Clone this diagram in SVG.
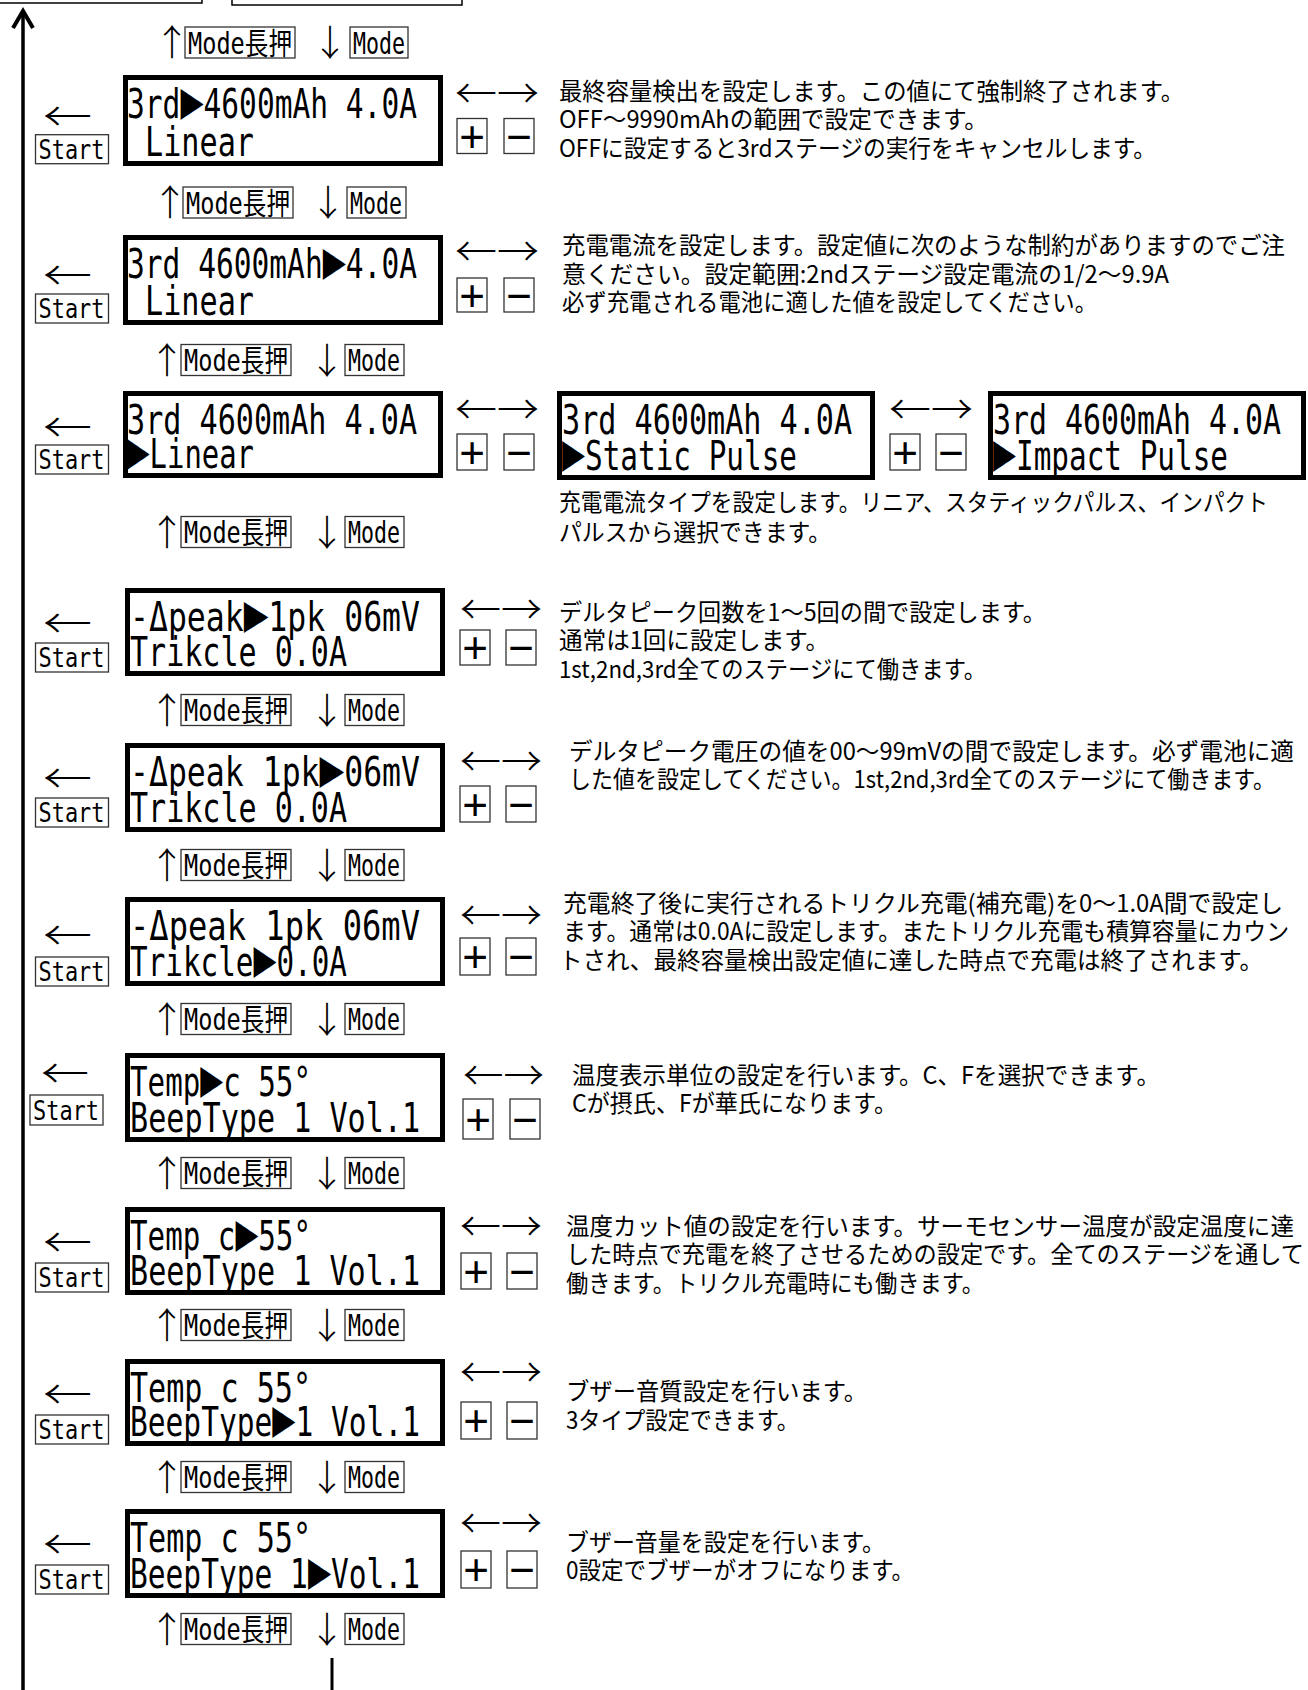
<svg xmlns="http://www.w3.org/2000/svg" width="1308" height="1690" viewBox="0 0 1308 1690">
<style>
.lcd{fill:#fff;stroke:#000;stroke-width:5}
.lt{font-family:"DejaVu Sans Mono","Noto Sans CJK JP",monospace;font-size:40px;fill:#000}
.cur{font-size:52px}
.bx{fill:#fff;stroke:#333;stroke-width:1.3}
.ml{font-family:"DejaVu Sans Mono","Noto Sans CJK JP",monospace;font-size:30px;fill:#000}
.st{font-family:"DejaVu Sans Mono",monospace;font-size:27px;fill:#000}
.ar{font-family:"Noto Sans CJK JP",sans-serif;font-size:40px;font-weight:300;fill:#000}
.va{font-family:"Noto Sans CJK JP",sans-serif;font-size:36px;font-weight:300;fill:#000;text-anchor:middle}
.pm{font-family:"Liberation Sans",sans-serif;font-size:44px;fill:#000;text-anchor:middle}
.ds{font-family:"Noto Sans CJK JP",sans-serif;font-size:24px;fill:#000}
.cn{fill:none;stroke:#000}
</style>
<rect x="0" y="0" width="1308" height="1690" fill="#fff"/>

<g id="top-boxes">
<rect class="cn" x="-2" y="-40" width="204" height="43" stroke-width="1.5"/>
<rect class="cn" x="232" y="-40" width="230" height="45" stroke-width="1.5"/>
</g>

<g id="connectors">
<line class="cn" x1="23" y1="12" x2="23" y2="1690" stroke-width="3.5"/>
<polyline class="cn" points="13,28 23,11 33,28" stroke-width="4"/>
<line class="cn" x1="332" y1="1658" x2="332" y2="1690" stroke-width="3"/>
</g>

<g id="mode-labels">
<g id="m1"><text class="va" x="172" y="56">↑</text><rect class="bx" x="185" y="27" width="110" height="31"/><text class="ml" x="188" y="53.5" textLength="104" lengthAdjust="spacingAndGlyphs">Mode長押</text><text class="va" x="330" y="56">↓</text><rect class="bx" x="350" y="27" width="58" height="31"/><text class="ml" x="353" y="53.5" textLength="52" lengthAdjust="spacingAndGlyphs">Mode</text></g>
<g id="m2"><text class="va" x="170" y="216">↑</text><rect class="bx" x="183" y="187" width="110" height="31"/><text class="ml" x="186" y="213.5" textLength="104" lengthAdjust="spacingAndGlyphs">Mode長押</text><text class="va" x="328" y="216">↓</text><rect class="bx" x="347" y="187" width="59" height="31"/><text class="ml" x="350" y="213.5" textLength="52" lengthAdjust="spacingAndGlyphs">Mode</text></g>
<g id="m3"><text class="va" x="167" y="374">↑</text><rect class="bx" x="181" y="344.5" width="110" height="31"/><text class="ml" x="184" y="371" textLength="104" lengthAdjust="spacingAndGlyphs">Mode長押</text><text class="va" x="327" y="374">↓</text><rect class="bx" x="345" y="344.5" width="59" height="31"/><text class="ml" x="348" y="371" textLength="52" lengthAdjust="spacingAndGlyphs">Mode</text></g>
<g id="m4"><text class="va" x="167" y="546">↑</text><rect class="bx" x="181" y="516.5" width="110" height="31"/><text class="ml" x="184" y="543" textLength="104" lengthAdjust="spacingAndGlyphs">Mode長押</text><text class="va" x="327" y="546">↓</text><rect class="bx" x="345" y="516.5" width="59" height="31"/><text class="ml" x="348" y="543" textLength="52" lengthAdjust="spacingAndGlyphs">Mode</text></g>
<g id="m5"><text class="va" x="167" y="724">↑</text><rect class="bx" x="181" y="694.5" width="110" height="31"/><text class="ml" x="184" y="721" textLength="104" lengthAdjust="spacingAndGlyphs">Mode長押</text><text class="va" x="327" y="724">↓</text><rect class="bx" x="345" y="694.5" width="59" height="31"/><text class="ml" x="348" y="721" textLength="52" lengthAdjust="spacingAndGlyphs">Mode</text></g>
<g id="m6"><text class="va" x="167" y="879">↑</text><rect class="bx" x="181" y="849.5" width="110" height="31"/><text class="ml" x="184" y="876" textLength="104" lengthAdjust="spacingAndGlyphs">Mode長押</text><text class="va" x="327" y="879">↓</text><rect class="bx" x="345" y="849.5" width="59" height="31"/><text class="ml" x="348" y="876" textLength="52" lengthAdjust="spacingAndGlyphs">Mode</text></g>
<g id="m7"><text class="va" x="167" y="1033">↑</text><rect class="bx" x="181" y="1003.5" width="110" height="31"/><text class="ml" x="184" y="1030" textLength="104" lengthAdjust="spacingAndGlyphs">Mode長押</text><text class="va" x="327" y="1033">↓</text><rect class="bx" x="345" y="1003.5" width="59" height="31"/><text class="ml" x="348" y="1030" textLength="52" lengthAdjust="spacingAndGlyphs">Mode</text></g>
<g id="m8"><text class="va" x="167" y="1187">↑</text><rect class="bx" x="181" y="1157.5" width="110" height="31"/><text class="ml" x="184" y="1184" textLength="104" lengthAdjust="spacingAndGlyphs">Mode長押</text><text class="va" x="327" y="1187">↓</text><rect class="bx" x="345" y="1157.5" width="59" height="31"/><text class="ml" x="348" y="1184" textLength="52" lengthAdjust="spacingAndGlyphs">Mode</text></g>
<g id="m9"><text class="va" x="167" y="1339">↑</text><rect class="bx" x="181" y="1309.5" width="110" height="31"/><text class="ml" x="184" y="1336" textLength="104" lengthAdjust="spacingAndGlyphs">Mode長押</text><text class="va" x="327" y="1339">↓</text><rect class="bx" x="345" y="1309.5" width="59" height="31"/><text class="ml" x="348" y="1336" textLength="52" lengthAdjust="spacingAndGlyphs">Mode</text></g>
<g id="m10"><text class="va" x="167" y="1491">↑</text><rect class="bx" x="181" y="1461.5" width="110" height="31"/><text class="ml" x="184" y="1488" textLength="104" lengthAdjust="spacingAndGlyphs">Mode長押</text><text class="va" x="327" y="1491">↓</text><rect class="bx" x="345" y="1461.5" width="59" height="31"/><text class="ml" x="348" y="1488" textLength="52" lengthAdjust="spacingAndGlyphs">Mode</text></g>
<g id="m11"><text class="va" x="167" y="1643">↑</text><rect class="bx" x="181" y="1613.5" width="110" height="31"/><text class="ml" x="184" y="1640" textLength="104" lengthAdjust="spacingAndGlyphs">Mode長押</text><text class="va" x="327" y="1643">↓</text><rect class="bx" x="345" y="1613.5" width="59" height="31"/><text class="ml" x="348" y="1640" textLength="52" lengthAdjust="spacingAndGlyphs">Mode</text></g>
</g>

<g id="row1">
<rect class="lcd" x="125.5" y="77.5" width="315" height="86"/>
<text class="lt" x="127" y="118" textLength="290" lengthAdjust="spacingAndGlyphs">3rd<tspan class="cur">▶</tspan>4600mAh 4.0A</text>
<text class="lt" x="145" y="156" textLength="109" lengthAdjust="spacingAndGlyphs">Linear</text>
<text class="ar" x="43" y="131" textLength="49" lengthAdjust="spacingAndGlyphs">←</text>
<rect class="bx" x="35.5" y="134.7" width="73" height="29"/>
<text class="st" x="38.5" y="158.7" textLength="66" lengthAdjust="spacingAndGlyphs">Start</text>
<text class="ar" x="455" y="108" textLength="84" lengthAdjust="spacingAndGlyphs">←→</text>
<rect class="bx" x="457" y="118.5" width="30" height="35"/><text class="pm" x="472" y="151.5">+</text>
<rect class="bx" x="504" y="118.5" width="30" height="35"/><text class="pm" x="519" y="151.5">−</text>
<text class="ds" x="559" y="99.5" textLength="625" lengthAdjust="spacingAndGlyphs">最終容量検出を設定します。この値にて強制終了されます。</text>
<text class="ds" x="559" y="127.5" textLength="429" lengthAdjust="spacingAndGlyphs">OFF〜9990mAhの範囲で設定できます。</text>
<text class="ds" x="559" y="156.5" textLength="597" lengthAdjust="spacingAndGlyphs">OFFに設定すると3rdステージの実行をキャンセルします。</text>
</g>

<g id="row2">
<rect class="lcd" x="125.5" y="237.5" width="315" height="85"/>
<text class="lt" x="127" y="278" textLength="290" lengthAdjust="spacingAndGlyphs">3rd 4600mAh<tspan class="cur">▶</tspan>4.0A</text>
<text class="lt" x="145" y="315" textLength="109" lengthAdjust="spacingAndGlyphs">Linear</text>
<text class="ar" x="43" y="290" textLength="49" lengthAdjust="spacingAndGlyphs">←</text>
<rect class="bx" x="35.5" y="294" width="73" height="29"/>
<text class="st" x="38.5" y="318" textLength="66" lengthAdjust="spacingAndGlyphs">Start</text>
<text class="ar" x="455" y="266" textLength="84" lengthAdjust="spacingAndGlyphs">←→</text>
<rect class="bx" x="457" y="278" width="30" height="34"/><text class="pm" x="472" y="310.5">+</text>
<rect class="bx" x="504" y="278" width="30" height="34"/><text class="pm" x="519" y="310.5">−</text>
<text class="ds" x="562" y="253.5" textLength="723" lengthAdjust="spacingAndGlyphs">充電電流を設定します。設定値に次のような制約がありますのでご注</text>
<text class="ds" x="562" y="282.5" textLength="607" lengthAdjust="spacingAndGlyphs">意ください。設定範囲:2ndステージ設定電流の1/2〜9.9A</text>
<text class="ds" x="562" y="310.5" textLength="535" lengthAdjust="spacingAndGlyphs">必ず充電される電池に適した値を設定してください。</text>
</g>

<g id="row3">
<rect class="lcd" x="125.5" y="393.5" width="315" height="82"/>
<text class="lt" x="127" y="434" textLength="290" lengthAdjust="spacingAndGlyphs">3rd 4600mAh 4.0A</text>
<text class="lt" x="127" y="468" textLength="127" lengthAdjust="spacingAndGlyphs"><tspan class="cur">▶</tspan>Linear</text>
<text class="ar" x="43" y="442" textLength="49" lengthAdjust="spacingAndGlyphs">←</text>
<rect class="bx" x="35.5" y="445" width="73" height="29"/>
<text class="st" x="38.5" y="469" textLength="66" lengthAdjust="spacingAndGlyphs">Start</text>
<text class="ar" x="455" y="424" textLength="84" lengthAdjust="spacingAndGlyphs">←→</text>
<rect class="bx" x="457" y="434" width="30" height="36"/><text class="pm" x="472" y="467.5">+</text>
<rect class="bx" x="504" y="434" width="30" height="36"/><text class="pm" x="519" y="467.5">−</text>
</g>

<g id="row3-static">
<rect class="lcd" x="559.5" y="393.5" width="313" height="84"/>
<text class="lt" x="562" y="434" textLength="290" lengthAdjust="spacingAndGlyphs">3rd 4600mAh 4.0A</text>
<text class="lt" x="562" y="470" textLength="235" lengthAdjust="spacingAndGlyphs"><tspan class="cur">▶</tspan>Static Pulse</text>
<text class="ar" x="889" y="424" textLength="84" lengthAdjust="spacingAndGlyphs">←→</text>
<rect class="bx" x="890" y="434" width="30" height="36"/><text class="pm" x="905" y="467.5">+</text>
<rect class="bx" x="936" y="434" width="30" height="36"/><text class="pm" x="951" y="467.5">−</text>
<text class="ds" x="559" y="511" textLength="709" lengthAdjust="spacingAndGlyphs">充電電流タイプを設定します。リニア、スタティックパルス、インパクト</text>
<text class="ds" x="559" y="541" textLength="272" lengthAdjust="spacingAndGlyphs">パルスから選択できます。</text>
</g>

<g id="row3-impact">
<rect class="lcd" x="990.5" y="393.5" width="313" height="84"/>
<text class="lt" x="993" y="434" textLength="288" lengthAdjust="spacingAndGlyphs">3rd 4600mAh 4.0A</text>
<text class="lt" x="993" y="470" textLength="235" lengthAdjust="spacingAndGlyphs"><tspan class="cur">▶</tspan>Impact Pulse</text>
</g>

<g id="row4">
<rect class="lcd" x="127.5" y="590.5" width="315" height="83"/>
<text class="lt" x="130" y="631" textLength="290" lengthAdjust="spacingAndGlyphs">-Δpeak<tspan class="cur">▶</tspan>1pk 06mV</text>
<text class="lt" x="130" y="666" textLength="217" lengthAdjust="spacingAndGlyphs">Trikcle 0.0A</text>
<text class="ar" x="43" y="638" textLength="49" lengthAdjust="spacingAndGlyphs">←</text>
<rect class="bx" x="35.5" y="643" width="73" height="29"/>
<text class="st" x="38.5" y="667" textLength="66" lengthAdjust="spacingAndGlyphs">Start</text>
<text class="ar" x="460" y="624" textLength="82" lengthAdjust="spacingAndGlyphs">←→</text>
<rect class="bx" x="460" y="630" width="30" height="35"/><text class="pm" x="475" y="663">+</text>
<rect class="bx" x="506" y="630" width="30" height="35"/><text class="pm" x="521" y="663">−</text>
<text class="ds" x="559" y="621" textLength="487" lengthAdjust="spacingAndGlyphs">デルタピーク回数を1〜5回の間で設定します。</text>
<text class="ds" x="559" y="649" textLength="270" lengthAdjust="spacingAndGlyphs">通常は1回に設定します。</text>
<text class="ds" x="559" y="678" textLength="427" lengthAdjust="spacingAndGlyphs">1st,2nd,3rd全てのステージにて働きます。</text>
</g>

<g id="row5">
<rect class="lcd" x="127.5" y="745.5" width="315" height="84"/>
<text class="lt" x="130" y="786" textLength="290" lengthAdjust="spacingAndGlyphs">-Δpeak 1pk<tspan class="cur">▶</tspan>06mV</text>
<text class="lt" x="130" y="822" textLength="217" lengthAdjust="spacingAndGlyphs">Trikcle 0.0A</text>
<text class="ar" x="43" y="793" textLength="49" lengthAdjust="spacingAndGlyphs">←</text>
<rect class="bx" x="35.5" y="798" width="73" height="29"/>
<text class="st" x="38.5" y="822" textLength="66" lengthAdjust="spacingAndGlyphs">Start</text>
<text class="ar" x="460" y="776" textLength="82" lengthAdjust="spacingAndGlyphs">←→</text>
<rect class="bx" x="460" y="786" width="30" height="36"/><text class="pm" x="475" y="819.5">+</text>
<rect class="bx" x="506" y="786" width="30" height="36"/><text class="pm" x="521" y="819.5">−</text>
<text class="ds" x="569" y="760" textLength="725" lengthAdjust="spacingAndGlyphs">デルタピーク電圧の値を00〜99mVの間で設定します。必ず電池に適</text>
<text class="ds" x="569" y="788" textLength="706" lengthAdjust="spacingAndGlyphs">した値を設定してください。1st,2nd,3rd全てのステージにて働きます。</text>
</g>

<g id="row6">
<rect class="lcd" x="127.5" y="899.5" width="315" height="84"/>
<text class="lt" x="130" y="940" textLength="290" lengthAdjust="spacingAndGlyphs">-Δpeak 1pk 06mV</text>
<text class="lt" x="130" y="976" textLength="217" lengthAdjust="spacingAndGlyphs">Trikcle<tspan class="cur">▶</tspan>0.0A</text>
<text class="ar" x="43" y="950" textLength="49" lengthAdjust="spacingAndGlyphs">←</text>
<rect class="bx" x="35.5" y="957" width="73" height="29"/>
<text class="st" x="38.5" y="981" textLength="66" lengthAdjust="spacingAndGlyphs">Start</text>
<text class="ar" x="460" y="930" textLength="82" lengthAdjust="spacingAndGlyphs">←→</text>
<rect class="bx" x="460" y="938" width="30" height="37"/><text class="pm" x="475" y="972">+</text>
<rect class="bx" x="506" y="938" width="30" height="37"/><text class="pm" x="521" y="972">−</text>
<text class="ds" x="563" y="912" textLength="720" lengthAdjust="spacingAndGlyphs">充電終了後に実行されるトリクル充電(補充電)を0〜1.0A間で設定し</text>
<text class="ds" x="563" y="940" textLength="726" lengthAdjust="spacingAndGlyphs">ます。通常は0.0Aに設定します。またトリクル充電も積算容量にカウン</text>
<text class="ds" x="559" y="969" textLength="704" lengthAdjust="spacingAndGlyphs">トされ、最終容量検出設定値に達した時点で充電は終了されます。</text>
</g>

<g id="row7">
<rect class="lcd" x="127.5" y="1055.5" width="315" height="84"/>
<text class="lt" x="130" y="1096" textLength="181" lengthAdjust="spacingAndGlyphs">Temp<tspan class="cur">▶</tspan>c 55°</text>
<text class="lt" x="130" y="1132" textLength="290" lengthAdjust="spacingAndGlyphs">BeepType 1 Vol.1</text>
<text class="ar" x="41" y="1088" textLength="48" lengthAdjust="spacingAndGlyphs">←</text>
<rect class="bx" x="30" y="1095" width="73" height="30"/>
<text class="st" x="33" y="1120" textLength="66" lengthAdjust="spacingAndGlyphs">Start</text>
<text class="ar" x="463" y="1090" textLength="81" lengthAdjust="spacingAndGlyphs">←→</text>
<rect class="bx" x="463" y="1099" width="30" height="40"/><text class="pm" x="478" y="1134.5">+</text>
<rect class="bx" x="510" y="1099" width="30" height="40"/><text class="pm" x="525" y="1134.5">−</text>
<text class="ds" x="572" y="1084" textLength="588" lengthAdjust="spacingAndGlyphs">温度表示単位の設定を行います。C、Fを選択できます。</text>
<text class="ds" x="572" y="1112" textLength="325" lengthAdjust="spacingAndGlyphs">Cが摂氏、Fが華氏になります。</text>
</g>

<g id="row8">
<rect class="lcd" x="127.5" y="1209.5" width="315" height="83"/>
<text class="lt" x="130" y="1250" textLength="181" lengthAdjust="spacingAndGlyphs">Temp c<tspan class="cur">▶</tspan>55°</text>
<text class="lt" x="130" y="1285" textLength="290" lengthAdjust="spacingAndGlyphs">BeepType 1 Vol.1</text>
<text class="ar" x="43" y="1257" textLength="49" lengthAdjust="spacingAndGlyphs">←</text>
<rect class="bx" x="35.5" y="1263" width="73" height="29"/>
<text class="st" x="38.5" y="1287" textLength="66" lengthAdjust="spacingAndGlyphs">Start</text>
<text class="ar" x="460" y="1241" textLength="82" lengthAdjust="spacingAndGlyphs">←→</text>
<rect class="bx" x="461" y="1253" width="30" height="36"/><text class="pm" x="476" y="1286.5">+</text>
<rect class="bx" x="507" y="1253" width="30" height="36"/><text class="pm" x="522" y="1286.5">−</text>
<text class="ds" x="566" y="1235" textLength="728" lengthAdjust="spacingAndGlyphs">温度カット値の設定を行います。サーモセンサー温度が設定温度に達</text>
<text class="ds" x="566" y="1263" textLength="738" lengthAdjust="spacingAndGlyphs">した時点で充電を終了させるための設定です。全てのステージを通して</text>
<text class="ds" x="566" y="1292" textLength="418" lengthAdjust="spacingAndGlyphs">働きます。トリクル充電時にも働きます。</text>
</g>

<g id="row9">
<rect class="lcd" x="127.5" y="1361.5" width="315" height="82"/>
<text class="lt" x="130" y="1402" textLength="181" lengthAdjust="spacingAndGlyphs">Temp c 55°</text>
<text class="lt" x="130" y="1436" textLength="290" lengthAdjust="spacingAndGlyphs">BeepType<tspan class="cur">▶</tspan>1 Vol.1</text>
<text class="ar" x="43" y="1409" textLength="49" lengthAdjust="spacingAndGlyphs">←</text>
<rect class="bx" x="35.5" y="1415" width="73" height="29"/>
<text class="st" x="38.5" y="1439" textLength="66" lengthAdjust="spacingAndGlyphs">Start</text>
<text class="ar" x="460" y="1387" textLength="82" lengthAdjust="spacingAndGlyphs">←→</text>
<rect class="bx" x="461" y="1402" width="30" height="37"/><text class="pm" x="476" y="1436">+</text>
<rect class="bx" x="507" y="1402" width="30" height="37"/><text class="pm" x="522" y="1436">−</text>
<text class="ds" x="566" y="1400" textLength="301" lengthAdjust="spacingAndGlyphs">ブザー音質設定を行います。</text>
<text class="ds" x="566" y="1429" textLength="233" lengthAdjust="spacingAndGlyphs">3タイプ設定できます。</text>
</g>

<g id="row10">
<rect class="lcd" x="127.5" y="1511.5" width="315" height="84"/>
<text class="lt" x="130" y="1552" textLength="181" lengthAdjust="spacingAndGlyphs">Temp c 55°</text>
<text class="lt" x="130" y="1588" textLength="290" lengthAdjust="spacingAndGlyphs">BeepType 1<tspan class="cur">▶</tspan>Vol.1</text>
<text class="ar" x="43" y="1559" textLength="49" lengthAdjust="spacingAndGlyphs">←</text>
<rect class="bx" x="35.5" y="1565" width="73" height="29"/>
<text class="st" x="38.5" y="1589" textLength="66" lengthAdjust="spacingAndGlyphs">Start</text>
<text class="ar" x="460" y="1538" textLength="82" lengthAdjust="spacingAndGlyphs">←→</text>
<rect class="bx" x="461" y="1551" width="30" height="37"/><text class="pm" x="476" y="1585">+</text>
<rect class="bx" x="507" y="1551" width="30" height="37"/><text class="pm" x="522" y="1585">−</text>
<text class="ds" x="566" y="1551" textLength="319" lengthAdjust="spacingAndGlyphs">ブザー音量を設定を行います。</text>
<text class="ds" x="566" y="1579" textLength="348" lengthAdjust="spacingAndGlyphs">0設定でブザーがオフになります。</text>
</g>
</svg>
